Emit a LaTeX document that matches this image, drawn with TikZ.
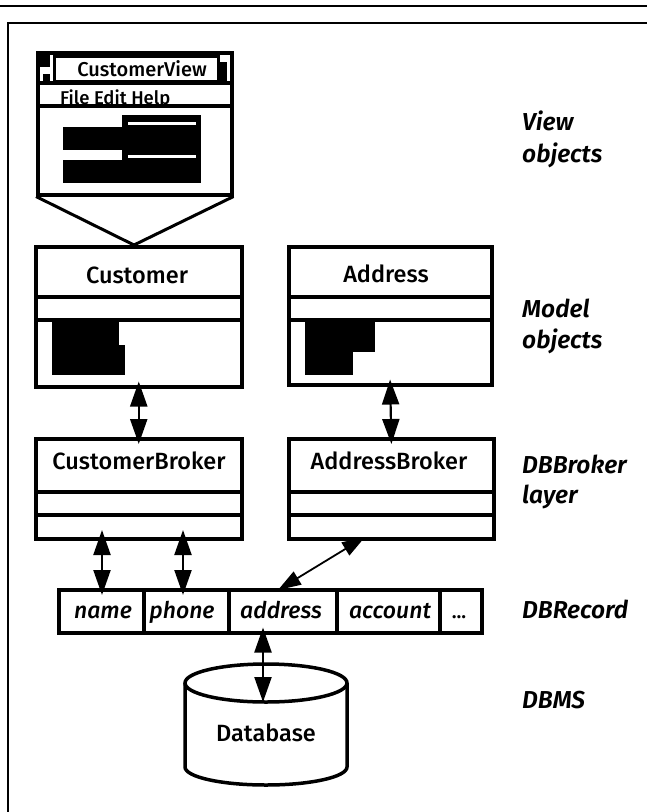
\documentclass[tikz,border=0pt]{standalone}
\usepackage{fontspec}
\setmainfont{Fira Sans}[UprightFont={Fira Sans Medium}, ItalicFont={Fira Sans Medium Italic}, BoldFont={Fira Sans SemiBold}, BoldItalicFont={Fira Sans SemiBold Italic}]
\usetikzlibrary{arrows.meta}
\begin{document}
\begin{tikzpicture}[x=1pt,y=-1pt,
  box/.style={draw, line width=3.5pt, anchor=north west, inner sep=0pt},
  sep/.style={line width=3.5pt},
  lbl/.style={font=\fontsize{24.5}{28}\selectfont\bfseries\itshape, anchor=base west, inner sep=0pt},
  boxtitle/.style={font=\fontsize{23.5}{26}\selectfont, anchor=base, inner sep=0pt},
  cell/.style={draw, line width=3.5pt, anchor=north west, inner sep=0pt, minimum height=43pt},
  celltext/.style={font=\fontsize{23}{26}\selectfont\itshape, anchor=base, inner sep=0pt},
  dbl/.style={line width=2.2pt, {Triangle[length=25pt,width=17pt]}-{Triangle[length=25pt,width=17pt]},
    shorten <=-7pt, shorten >=-7pt},
]
\useasboundingbox (0,0) rectangle (647,812);
\fill[white] (0,0) rectangle (647,812);
% frame
\draw[line width=1.8pt] (0,6) -- (647,6);
\draw[line width=1.8pt] (647,23) -- (8,23) -- (8,812);

% window
\node[box, minimum width=194pt, minimum height=142pt] (win) at (36,51) {};
\draw[sep] (36,83) -- (230,83);
\draw[sep] (36,106) -- (230,106);
\node[draw, line width=2.5pt, anchor=north west, minimum width=164pt, minimum height=25pt, inner sep=0pt] (title) at (53,55) {};
\node[font=\fontsize{20}{22}\selectfont, anchor=base, inner sep=0pt] (titletext) at (142,76) {CustomerView};
\fill (40,53) rectangle (50,67);
\fill (43,74) rectangle (50,81);
\fill (219,62) rectangle (227,81);
\node[font=\fontsize{18.5}{22}\selectfont, anchor=base west, inner sep=0pt] (menu) at (60,104) {File Edit Help};
\fill (122,115) rectangle (201,183);
\fill (63,127) rectangle (122,150);
\fill (63,160) rectangle (122,183);
\fill[white] (128,122) rectangle (196,125);
\fill[white] (128,155) rectangle (196,158);

% model objects
\node[box, minimum width=206pt, minimum height=140pt] (cust) at (34,245) {};
\coordinate (apex) at (134,245);
\draw[line width=3pt] (win.south west) -- (apex) -- (win.south east);
\draw[sep] (34,297) -- (240,297);
\draw[sep] (34,320) -- (240,320);
\node[boxtitle] (custname) at (137,283) {Customer};
\fill (52,322) rectangle (119,345);
\fill (52,345) rectangle (125,375);

\node[box, minimum width=203pt, minimum height=138pt] (addr) at (287,245) {};
\draw[sep] (287,297) -- (490,297);
\draw[sep] (287,320) -- (490,320);
\node[boxtitle] (addrname) at (386,282) {Address};
\fill (305,322) rectangle (375,352);
\fill (305,352) rectangle (353,375);

% brokers
\node[box, minimum width=206pt, minimum height=100pt] (cb) at (34,437) {};
\draw[sep] (34,492) -- (240,492);
\draw[sep] (34,515) -- (240,515);
\node[boxtitle] (cbname) at (139,469) {CustomerBroker};

\node[box, minimum width=205pt, minimum height=100pt] (ab) at (287,437) {};
\draw[sep] (287,492) -- (492,492);
\draw[sep] (287,515) -- (492,515);
\node[boxtitle] (abname) at (389,469) {AddressBroker};

\draw[dbl] (cust.south) -- (cb.north);
\draw[dbl] (addr.south) -- (ab.north);

% record
\node[cell, minimum width=85pt] (fname) at (57,588) {};
\node[cell, minimum width=85pt] (fphone) at (142,588) {};
\node[cell, minimum width=108pt] (faddr) at (227,588) {};
\node[cell, minimum width=103pt] (facc) at (335,588) {};
\node[cell, minimum width=42pt] (fdots) at (438,588) {};
\node[celltext] (tname) at (103,618) {name};
\node[celltext] (tphone) at (182,618) {phone};
\node[celltext] (taddr) at (281,618) {address};
\node[celltext] (tacc) at (390,618) {account};
\node[celltext, font=\fontsize{20}{24}\selectfont] (tdots) at (459,618) {...};

\coordinate (cbA) at (102,537);
\coordinate (cbB) at (183,537);
\coordinate (abA) at (365,537);
\coordinate (recA) at (278,590);
\draw[dbl] (cbA) -- (cbA |- fname.north);
\draw[dbl] (cbB) -- (cbB |- fphone.north);
\draw[line width=1.8pt, {Triangle[length=23pt,width=15pt]}-{Triangle[length=23pt,width=15pt]}] (abA) -- (recA);

% database
\draw[line width=3.5pt] (185,683) -- (185,767) arc[start angle=180, end angle=360, x radius=81pt, y radius=18pt] -- (347,683);
\draw[line width=3.5pt, fill=white] (266,683) ellipse[x radius=81pt, y radius=19pt];
\node[boxtitle] (db) at (266,741) {Database};
\coordinate (dbtop) at (263,702);
\draw[dbl, shorten >=0pt] (dbtop |- faddr.south) -- (dbtop);

% layer labels
\node[lbl] (l1a) at (522,130) {View};
\node[lbl] (l1b) at (522,162) {objects};
\node[lbl] (l2a) at (522,317) {Model};
\node[lbl] (l2b) at (522,348) {objects};
\node[lbl] (l3a) at (522,473) {DBBroker};
\node[lbl] (l3b) at (522,503) {layer};
\node[lbl] (l4) at (522,618) {DBRecord};
\node[lbl] (l5) at (522,708) {DBMS};
\end{tikzpicture}
\end{document}
